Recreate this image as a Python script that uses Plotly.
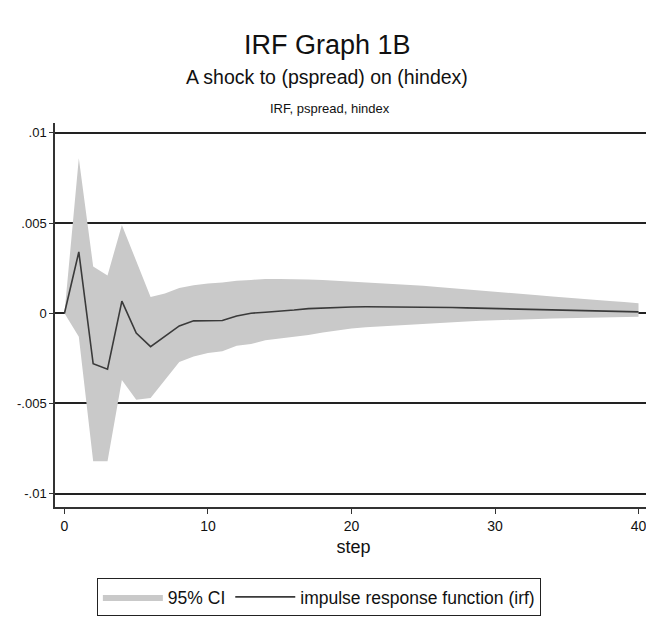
import plotly.graph_objects as go

steps = list(range(41))
irf = [0, 0.0034, -0.0028, -0.0031, 0.00067, -0.0011, -0.00185, -0.0013, -0.0007, -0.00042,
       -0.0004, -0.0004, -0.00015, 0.0, 0.00006, 0.0001, 0.00018, 0.00026, 0.0003, 0.00033,
       0.00035, 0.00036, 0.00036, 0.00036, 0.00036, 0.00035, 0.00033, 0.00032, 0.0003, 0.00028,
       0.00027, 0.00025, 0.00023, 0.00021, 0.0002, 0.00018, 0.00016, 0.00014, 0.00012, 0.0001,
       0.00008]
upper = [0, 0.0086, 0.0026, 0.0021, 0.0049, 0.0029, 0.0009, 0.0011, 0.0014, 0.00155,
         0.00165, 0.0017, 0.0018, 0.00185, 0.0019, 0.0019, 0.0019, 0.00188, 0.00184, 0.0018,
         0.00176, 0.00172, 0.00168, 0.00164, 0.0016, 0.00153, 0.00146, 0.0014, 0.00133, 0.00127,
         0.0012, 0.00113, 0.00106, 0.001, 0.00093, 0.00086, 0.0008, 0.00074, 0.00068, 0.00062,
         0.00056]
lower = [0, -0.0013, -0.0082, -0.0082, -0.0037, -0.0048, -0.0047, -0.0037, -0.0027, -0.0024,
         -0.0022, -0.0021, -0.0018, -0.0017, -0.0015, -0.0014, -0.0013, -0.0012, -0.00106, -0.00094,
         -0.00084, -0.00078, -0.00074, -0.0007, -0.00065, -0.0006, -0.00055, -0.0005, -0.00046, -0.00042,
         -0.00038, -0.00035, -0.00033, -0.00031, -0.00029, -0.00027, -0.00025, -0.00023, -0.00021, -0.0002,
         -0.00019]

y_ticks = [0.01, 0.005, 0, -0.005, -0.01]
y_ticktext = [".01", ".005", "0", "-.005", "-.01"]
x_ticks = [0, 10, 20, 30, 40]

FONT = "Liberation Sans Narrow, Arial Narrow, Liberation Sans, Arial, sans-serif"

fig = go.Figure()
fig.add_trace(go.Scatter(
    x=steps + steps[::-1], y=upper + lower[::-1],
    fill="toself", fillcolor="#c9c9c9", line=dict(width=0, color="#c9c9c9"),
    mode="lines", name="95% CI", hoverinfo="skip"))
fig.add_trace(go.Scatter(
    x=steps, y=irf, mode="lines", line=dict(color="#3a3a3a", width=1.6),
    name="impulse response function (irf)"))

fig.update_layout(
    width=654, height=619,
    margin=dict(l=47, r=10, t=115, b=120),
    paper_bgcolor="white", plot_bgcolor="white",
    font=dict(family=FONT, color="#111111"),
    showlegend=True,
    legend=dict(orientation="h", x=0.442, xanchor="center", y=-0.185, yanchor="top",
                bordercolor="#222222", borderwidth=1, font=dict(size=17.5, family=FONT),
                itemwidth=60, entrywidth=0, tracegroupgap=0),
    annotations=[
        dict(text="IRF Graph 1B", x=0.456, y=1.203, xref="paper", yref="paper",
             showarrow=False, font=dict(size=27, family=FONT), xanchor="center", yanchor="middle"),
        dict(text="A shock to (pspread) on (hindex)", x=0.456, y=1.120, xref="paper", yref="paper",
             showarrow=False, font=dict(size=19.5, family=FONT), xanchor="center", yanchor="middle"),
        dict(text="IRF, pspread, hindex", x=0.46, y=1.039, xref="paper", yref="paper",
             showarrow=False, font=dict(size=13, family=FONT), xanchor="center", yanchor="middle"),
    ],
)
fig.update_xaxes(range=[-0.66, 40.94], tickvals=x_ticks, showgrid=False, zeroline=False,
                 showline=True, linecolor="#333333", linewidth=1.5,
                 ticks="outside", ticklen=5, tickcolor="#333333",
                 tickfont=dict(size=14, family=FONT),
                 title=dict(text="step", font=dict(size=18, family=FONT), standoff=8))
fig.update_yaxes(range=[-0.01074, 0.01055], tickvals=y_ticks, ticktext=y_ticktext,
                 showgrid=True, gridcolor="#222222", gridwidth=2, zeroline=False,
                 showline=True, linecolor="#333333", linewidth=1.5,
                 ticks="outside", ticklen=4, tickcolor="#333333",
                 tickfont=dict(size=13, family=FONT))

fig.write_html("out.html")
